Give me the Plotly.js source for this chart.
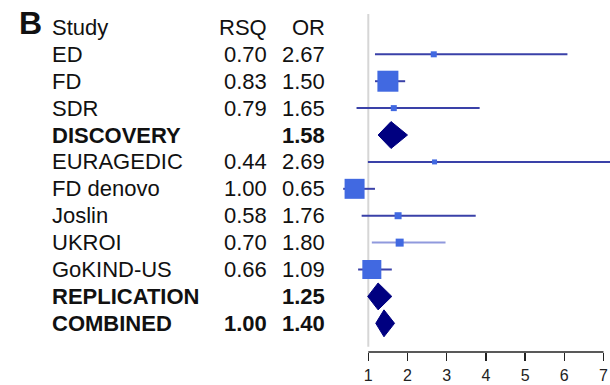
<!DOCTYPE html>
<html>
<head>
<meta charset="utf-8">
<script src="https://cdn.plot.ly/plotly-3.0.1.min.js"></script>
<style>
  html, body { margin: 0; padding: 0; background: #fff; }
  #chart { width: 610px; height: 385px; }
</style>
</head>
<body>
<div id="chart"></div>
<script>
// Forest plot: per-study odds ratios with 95% CIs, plus pooled estimates
const studies   = ['ED', 'FD', 'SDR', 'DISCOVERY', 'EURAGEDIC', 'FD denovo', 'Joslin', 'UKROI', 'GoKIND-US', 'REPLICATION', 'COMBINED'];
const rsq       = ['0.70', '0.83', '0.79', '', '0.44', '1.00', '0.58', '0.70', '0.66', '', '1.00'];
const oddsRatio = [2.67, 1.50, 1.65, 1.58, 2.69, 0.65, 1.76, 1.80, 1.09, 1.25, 1.40];
const ciLow     = [1.17, 1.17, 0.70, 1.25, 0.99, 0.36, 0.83, 1.09, 0.74, 0.985, 1.19];
const ciHigh    = [6.08, 1.94, 3.84, 2.00, 7.31, 1.17, 3.74, 2.97, 1.60, 1.60, 1.67];
const isPooled  = [false, false, false, true, false, false, false, false, false, true, true];
const studyWeight = [6, 21, 6, 0, 5, 20, 7, 8, 19, 0, 0];   // box size per study
const tickValues = [1, 2, 3, 4, 5, 6, 7];

const rowOf = i => i + 1;          // row 0 holds the column headers
const FONT = 'Liberation Sans, Arial, sans-serif';
const LINE_DARK = '#3a41a8';
const LINE_LIGHT = '#9099dd';
const BOX = '#4169e1';
const DIAMOND = '#000080';

const traces = [];

// each study: CI whisker with its weighted box drawn on top
studies.forEach((s, i) => {
  if (isPooled[i]) return;
  const r = rowOf(i);
  traces.push({
    type: 'scatter', mode: 'lines',
    x: [ciLow[i], ciHigh[i]], y: [r, r],
    line: { color: s === 'UKROI' ? LINE_LIGHT : LINE_DARK, width: 2 },
    opacity: 1, hoverinfo: 'skip', showlegend: false
  });
  traces.push({
    type: 'scatter', mode: 'markers',
    x: [oddsRatio[i]], y: [r],
    marker: { symbol: 'square', size: studyWeight[i], color: BOX, opacity: 1, line: { width: 0 } },
    opacity: 1, hoverinfo: 'x', showlegend: false
  });
});

// pooled estimates as diamonds spanning their CI
const HALF_H = 0.5;
studies.forEach((s, i) => {
  if (!isPooled[i]) return;
  const r = rowOf(i);
  traces.push({
    type: 'scatter', mode: 'lines', fill: 'toself',
    x: [ciLow[i], oddsRatio[i], ciHigh[i], oddsRatio[i], ciLow[i]],
    y: [r, r - HALF_H, r, r + HALF_H, r],
    fillcolor: DIAMOND, line: { color: DIAMOND, width: 1 },
    opacity: 1, showlegend: false, hoverinfo: 'skip'
  });
});

// text columns to the left of the plot
const L = 340, W = 270;
const px = p => (p - L) / W;
const annotations = [];
const txt = (text, x, y, anchor, bold, size) => annotations.push({
  text: bold ? '<b>' + text + '</b>' : text,
  xref: 'paper', yref: 'y', x: px(x), y: y,
  xanchor: anchor, yanchor: 'middle', showarrow: false,
  font: { family: FONT, size: size || 22, color: '#111' }
});

txt('B', 17, -0.18, 'left', true, 32);
txt('Study', 50, 0, 'left', false);
txt('RSQ', 269, 0, 'right', false);
txt('OR', 327, 0, 'right', false);
studies.forEach((s, i) => {
  const r = rowOf(i);
  txt(s, 50, r, 'left', isPooled[i]);
  if (rsq[i]) txt(rsq[i], 269, r, 'right', isPooled[i]);
  txt(oddsRatio[i].toFixed(2), 327, r, 'right', isPooled[i]);
});

const layout = {
  width: 610, height: 385,
  margin: { l: L, r: 0, t: 0, b: 33 },
  paper_bgcolor: '#fff', plot_bgcolor: '#fff',
  showlegend: false,
  xaxis: {
    range: [0.278, 7.166],
    tickvals: tickValues, ticktext: tickValues.map(String),
    ticks: 'outside', ticklen: 8, tickwidth: 1.5, tickcolor: '#222',
    showgrid: false, zeroline: false, showline: false,
    tickfont: { family: FONT, size: 16, color: '#222' },
    ticklabelstandoff: 1, fixedrange: true
  },
  yaxis: { range: [12.066, -1.019], visible: false, fixedrange: true },
  shapes: [
    // null-effect reference line at OR = 1
    { type: 'line', layer: 'below', xref: 'x', yref: 'y', x0: 1, x1: 1, y0: -0.5, y1: 11.87,
      line: { color: '#d6d6d6', width: 2 } },
    // axis baseline spanning the labelled ticks
    { type: 'line', xref: 'x', yref: 'paper', x0: tickValues[0], x1: tickValues[tickValues.length - 1], y0: 0, y1: 0,
      line: { color: '#222', width: 1.5 } }
  ],
  annotations: annotations
};

Plotly.newPlot('chart', traces, layout, { displayModeBar: false, staticPlot: true });
</script>
</body>
</html>
